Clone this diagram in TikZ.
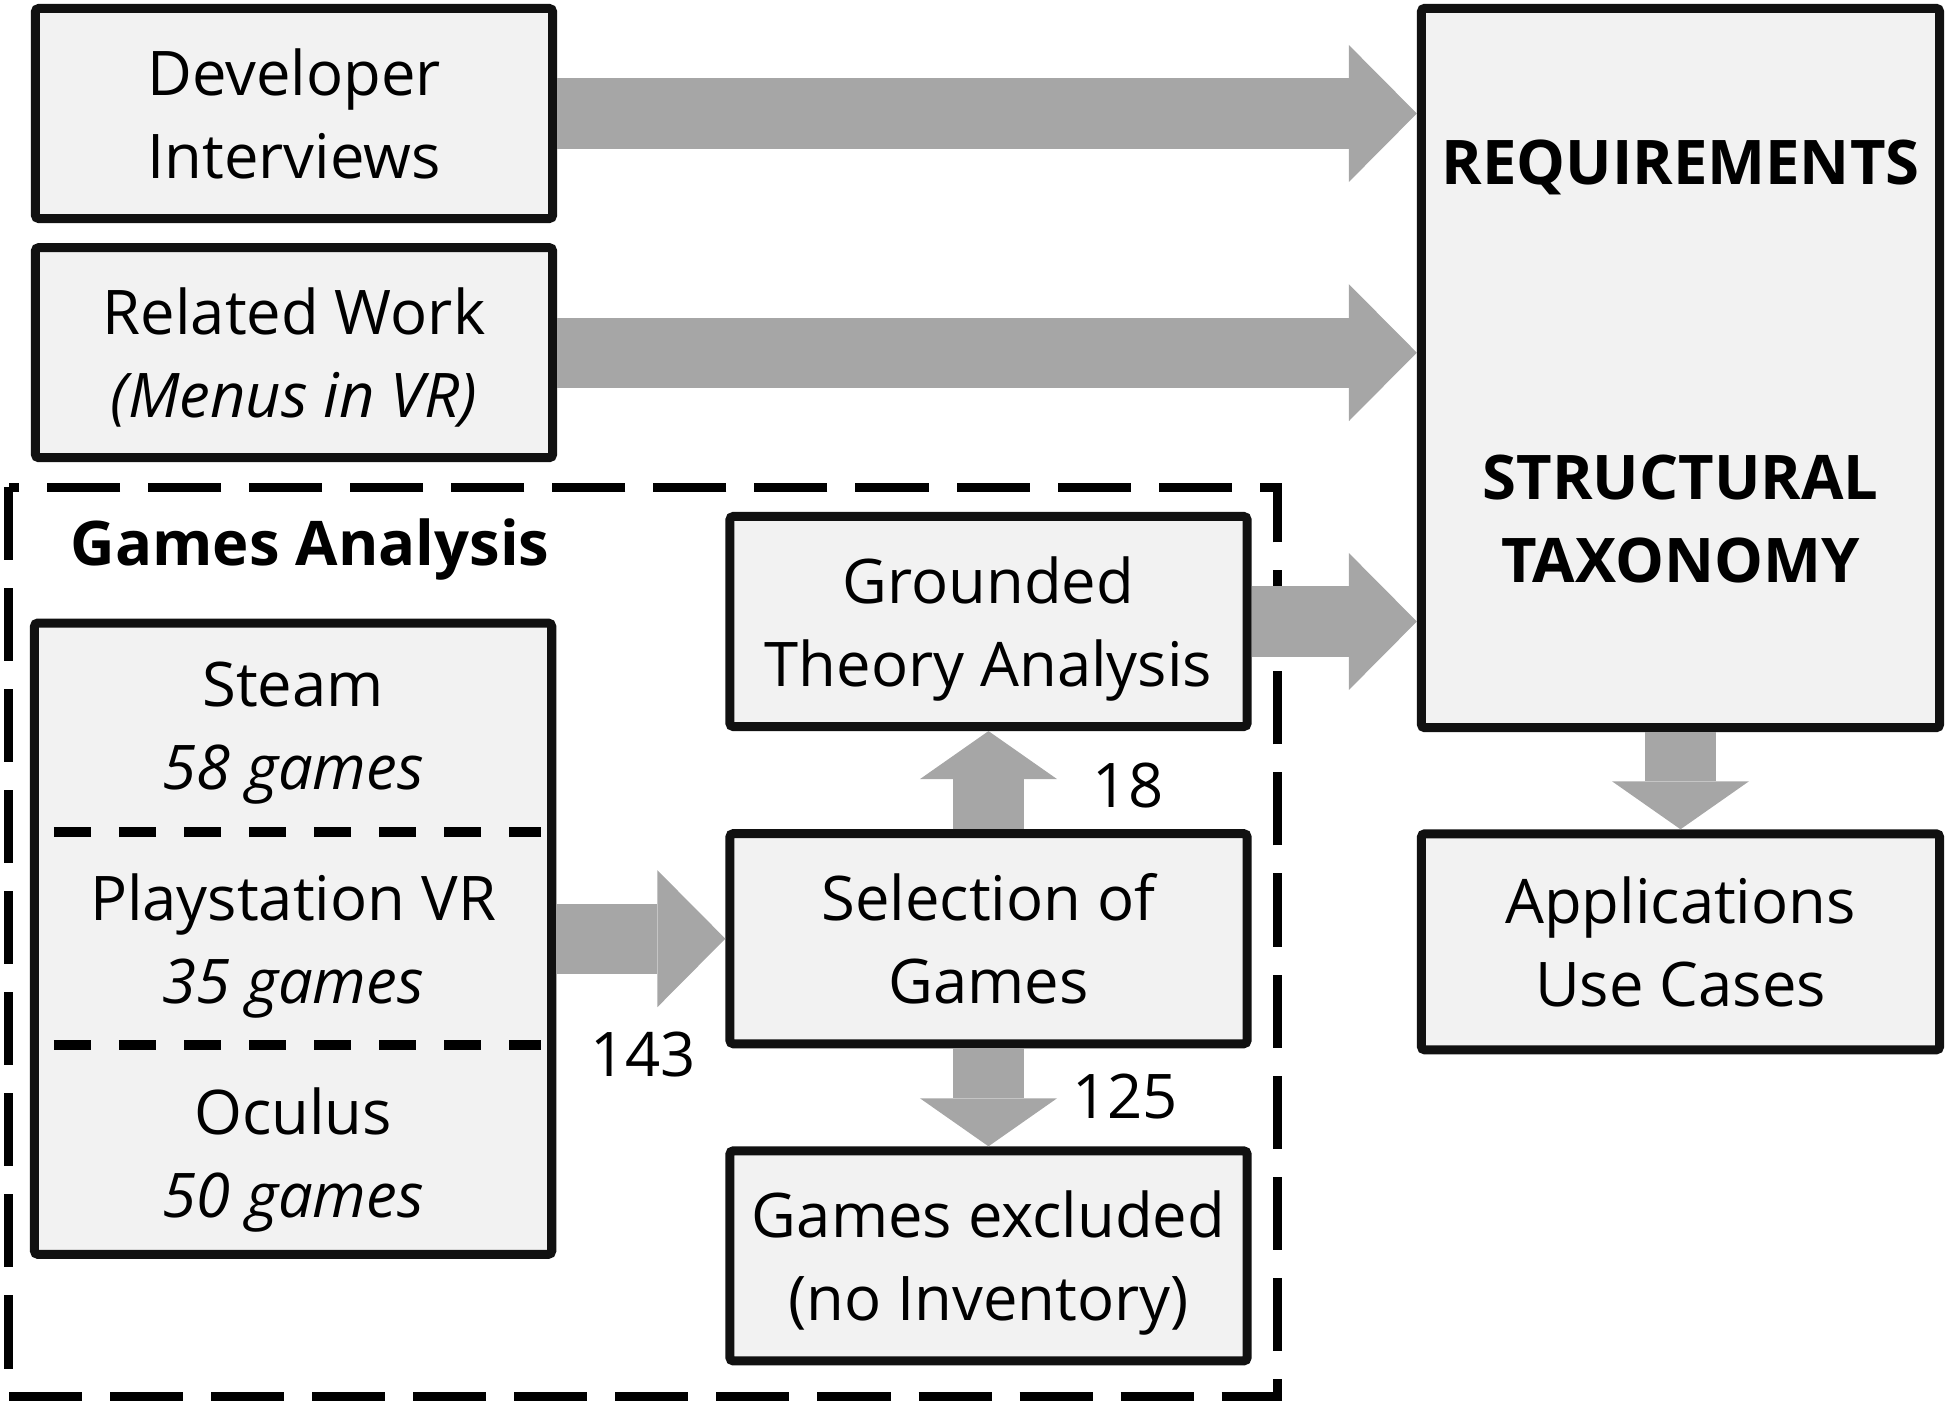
\documentclass[tikz,border=0pt]{standalone}
\usepackage{fontspec}
\setmainfont{Open Sans}
\usetikzlibrary{positioning,arrows.meta,calc}
\definecolor{boxfill}{HTML}{F2F2F2}
\definecolor{boxline}{HTML}{111111}
\definecolor{flowgray}{HTML}{A6A6A6}

\begin{document}
\begin{tikzpicture}[
    x=0.01cm, y=-0.01cm,
    node distance=0.98cm and 1.69cm,
    every node/.style={font=\fontsize{17.5}{23.6}\selectfont},
    block/.style={draw=boxline, fill=boxfill, line width=0.09cm, rounded corners=1pt, minimum width=5.17cm, minimum height=2.1cm, align=center, inner sep=0pt, text depth=0pt},
    bigbox/.style={block, minimum width=5.18cm, minimum height=7.19cm},
    heading/.style={font=\fontsize{17.5}{23.6}\selectfont\bfseries, align=center, text depth=0pt},
    src/.style={align=center, text depth=0pt},
    frame/.style={draw=black, line width=0.09cm, dash pattern=on 0.73cm off 0.28cm},
    divider/.style={draw=black, line width=0.1cm, dash pattern=on 0.37cm off 0.28cm},
    flow/.style={line width=0.7cm, draw=flowgray, -{Triangle[width=1.37cm, length=0.68cm, line width=0pt]}},
    flowv/.style={flow, -{Triangle[width=1.37cm, length=0.48cm, line width=0pt]}}
]
    \useasboundingbox (0,0) rectangle (1950,1405);

    % Games analysis frame
    \draw[frame] (8.5,487) -- (8.5,1396) -- (1277.5,1396) -- (1277.5,487) -- cycle;
    \node[heading] (gatitle) at (310,542) {Games Analysis};

    % Column 1: sources
    \node[block] (dev) at (294,113.5) {Developer\\Interviews};
    \node[block, below=0.2cm of dev] (rel) {Related Work\\\textit{(Menus in VR)}};

    % Column 2: games pipeline
    \node[block] (grd) at (988.5,621.5) {Grounded\\Theory Analysis};
    \node[block, below=of grd] (sel) {Selection of\\Games};
    \node[block, below=of sel] (exc) {Games excluded\\(no Inventory)};

    % Platforms
    \node[block, minimum height=6.31cm, left=of sel] (plat) {};
    \node[src] (steam) at ($(plat.north)!1/6!(plat.south)$) {Steam\\\textit{58 games}};
    \node[src] (psvr) at ($(plat.north)!3/6!(plat.south)$) {Playstation VR\\\textit{35 games}};
    \node[src] (oculus) at ($(plat.north)!5/6!(plat.south)$) {Oculus\\\textit{50 games}};
    \draw[divider] ($(plat.north west)!1/3!(plat.south west) + (24,0)$) -- ($(plat.north east)!1/3!(plat.south east) + (-15,0)$);
    \draw[divider] ($(plat.north west)!2/3!(plat.south west) + (24,0)$) -- ($(plat.north east)!2/3!(plat.south east) + (-15,0)$);

    % Column 3: results
    \node[bigbox] (req) at (1680.5,368) {};
    \node[heading] (reqtxt) at (1680.5,162) {REQUIREMENTS};
    \node[heading] (taxtxt) at (1680.5,519) {STRUCTURAL\\TAXONOMY};
    \node[block, minimum width=5.18cm, minimum height=2.16cm, below=0.97cm of req] (app) {Applications\\Use Cases};

    % Counts
    \node (n143) at (643,1055) {143};
    \node (n18) at (1128,786) {18};
    \node (n125) at (1125,1097) {125};

    % Draw arrows
    \draw[flow] (dev.east) -- (dev.east -| req.west);
    \draw[flow] (rel.east) -- (rel.east -| req.west);
    \draw[flow] (grd.east) -- (grd.east -| req.west);
    \draw[flow] (plat.east |- sel.west) -- (sel.west);
    \draw[flowv] (sel.north) -- (grd.south);
    \draw[flowv] (sel.south) -- (exc.north);
    \draw[flowv] (req.south) -- (app.north);
\end{tikzpicture}
\end{document}
